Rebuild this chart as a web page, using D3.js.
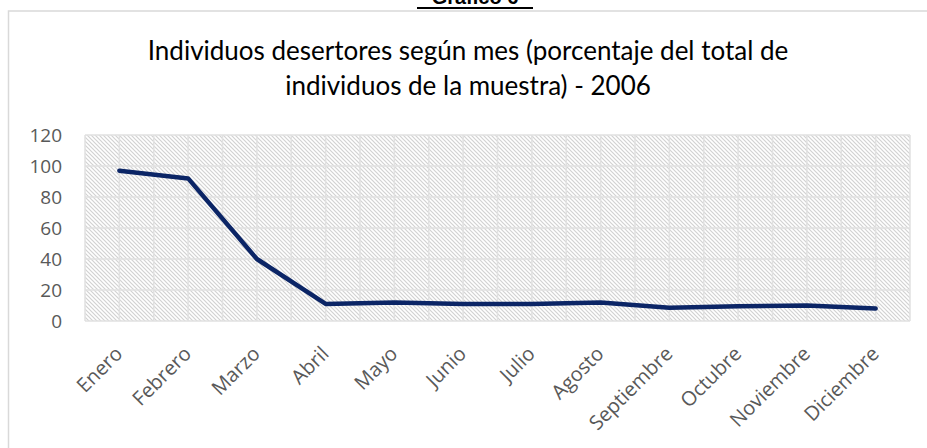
<!DOCTYPE html>
<html>
<head>
<meta charset="utf-8">
<script src="https://cdn.jsdelivr.net/npm/d3@7"></script>
<style>
  body { margin: 0; background: #fff; }
  svg { display: block; }
</style>
</head>
<body>
<div id="chart"></div>
<script>
// data
var meses = ["Enero", "Febrero", "Marzo", "Abril", "Mayo", "Junio", "Julio",
             "Agosto", "Septiembre", "Octubre", "Noviembre", "Diciembre"];
var desertores = [97, 92, 40, 11, 12, 11, 11, 12, 8.5, 9.5, 10, 8];
var yTicks = [0, 20, 40, 60, 80, 100, 120];
var titulo = ["Individuos desertores según mes (porcentaje del total de",
              "individuos de la muestra) - 2006"];

var width = 927, height = 448;
var margin = {left: 85, right: 17, top: 135, bottom: 127};
var labelFont = "'Open Sans', 'Noto Sans', sans-serif";

var svg = d3.select("#chart").append("svg")
  .attr("width", width).attr("height", height);

// hatch pattern for plot area
var defs = svg.append("defs");
var pat = defs.append("pattern")
  .attr("id", "hatch")
  .attr("patternUnits", "userSpaceOnUse")
  .attr("width", 4).attr("height", 4);
pat.append("rect").attr("width", 4).attr("height", 4).attr("fill", "#fff");
pat.append("path")
  .attr("d", "M-1,-1 L5,5 M-1,3 L1,5 M3,-1 L5,1")
  .attr("stroke", "#d2d2d2").attr("stroke-width", 1.2);

// "Gráfico 6" heading, cut off at the top like the source
svg.append("text")
  .attr("x", 475).attr("y", 4)
  .attr("text-anchor", "middle")
  .style("font-family", "Liberation Sans, Arial, sans-serif")
  .style("font-weight", "bold")
  .style("font-size", "20px")
  .attr("fill", "#000")
  .text("Gráfico 6");
svg.append("line")
  .attr("x1", 417).attr("x2", 533).attr("y1", 8).attr("y2", 8)
  .attr("stroke", "#000").attr("stroke-width", 2);

// chart area border
svg.append("rect")
  .attr("x", 8.5).attr("y", 11)
  .attr("width", 930).attr("height", 450)
  .attr("fill", "none")
  .attr("stroke", "#d9d9d9").attr("stroke-width", 1.5);

// title
svg.append("g").selectAll("text")
  .data(titulo)
  .join("text")
    .attr("x", 468)
    .attr("y", (d, i) => 60 + i * 35)
    .attr("text-anchor", "middle")
    .style("font-family", "Lato, sans-serif")
    .style("font-size", "26px")
    .attr("fill", "#000")
    .text(d => d);

var x = d3.scaleBand()
  .domain(meses)
  .range([margin.left, width - margin.right]);
var y = d3.scaleLinear()
  .domain([0, 120])
  .range([height - margin.bottom, margin.top]);

var bw = x.bandwidth();

// plot area background
svg.append("rect")
  .attr("x", margin.left).attr("y", y(120))
  .attr("width", x.range()[1] - margin.left)
  .attr("height", y(0) - y(120))
  .attr("fill", "url(#hatch)");

// gridlines: horizontal at ticks, vertical every half category
var vx = [];
meses.forEach(function(m){ vx.push(x(m)); vx.push(x(m) + bw / 2); });
vx.push(x.range()[1]);

var grid = svg.append("g").attr("stroke", "#e1e1e1").attr("stroke-width", 1.5);
grid.selectAll("line.h")
  .data(yTicks)
  .join("line")
    .attr("class", "h")
    .attr("x1", margin.left).attr("x2", x.range()[1])
    .attr("y1", d => y(d)).attr("y2", d => y(d));
grid.selectAll("line.v")
  .data(vx)
  .join("line")
    .attr("class", "v")
    .attr("x1", d => d).attr("x2", d => d)
    .attr("y1", y(120)).attr("y2", y(0));

// y axis
var yAxis = svg.append("g")
  .attr("transform", `translate(${margin.left},0)`)
  .call(d3.axisLeft(y).tickValues(yTicks).tickSize(0).tickPadding(23));
yAxis.select(".domain").remove();
yAxis.selectAll("text")
  .style("font-family", labelFont)
  .style("font-size", "19px")
  .attr("fill", "#595959");

// x labels, rotated
svg.append("g").selectAll("text")
  .data(meses)
  .join("text")
    .attr("transform", d => `translate(${x(d) + bw / 2 + 4.5},${y(0) + 34}) rotate(-45)`)
    .attr("text-anchor", "end")
    .style("font-family", labelFont)
    .style("font-size", "20px")
    .attr("fill", "#595959")
    .text(d => d);

// the line
var line = d3.line()
  .x((d, i) => x(meses[i]) + bw / 2)
  .y(d => y(d));

svg.append("path")
  .datum(desertores)
  .attr("fill", "none")
  .attr("stroke", "#0b2566")
  .attr("stroke-width", 4.5)
  .attr("stroke-linejoin", "round")
  .attr("stroke-linecap", "round")
  .attr("d", line);
</script>
</body>
</html>
